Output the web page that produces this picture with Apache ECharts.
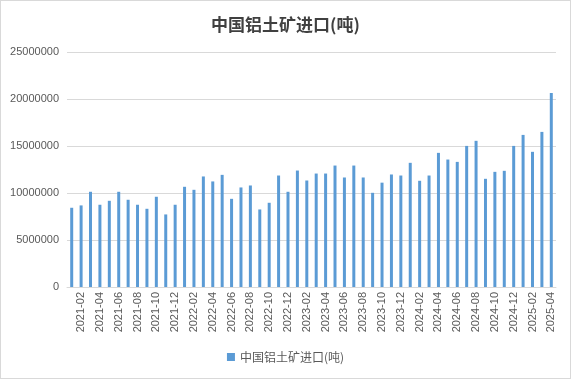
<!DOCTYPE html>
<html>
<head>
<meta charset="utf-8">
<script src="https://cdn.jsdelivr.net/npm/echarts@6/dist/echarts.min.js"></script>
<style>
html,body{margin:0;padding:0;background:#fff;}
#wrap{position:absolute;left:0;top:0;width:569px;height:377px;border:1px solid #d9d9d9;}
#c{width:569px;height:377px;}
</style>
</head>
<body>
<div id="wrap"><div id="c"></div></div>
<script>
const months = [
"2021-01","2021-02","2021-03","2021-04","2021-05","2021-06","2021-07","2021-08","2021-09","2021-10","2021-11","2021-12",
"2022-01","2022-02","2022-03","2022-04","2022-05","2022-06","2022-07","2022-08","2022-09","2022-10","2022-11","2022-12",
"2023-01","2023-02","2023-03","2023-04","2023-05","2023-06","2023-07","2023-08","2023-09","2023-10","2023-11","2023-12",
"2024-01","2024-02","2024-03","2024-04","2024-05","2024-06","2024-07","2024-08","2024-09","2024-10","2024-11","2024-12",
"2025-01","2025-02","2025-03","2025-04"];
const imports = [
8430000,8680000,10130000,8750000,9170000,10130000,9280000,8750000,8320000,9600000,7720000,8750000,
10660000,10340000,11760000,11230000,11930000,9380000,10590000,10800000,8250000,8960000,11860000,10130000,
12390000,11330000,12070000,12070000,12920000,11650000,12920000,11650000,10020000,11100000,11970000,11860000,
13210000,11300000,11860000,14270000,13560000,13310000,15010000,15550000,11510000,12250000,12360000,15010000,
16180000,14380000,16500000,20640000];
const seriesName = "中国铝土矿进口(吨)";
const titleText = "中国铝土矿进口(吨)";

const chart = echarts.init(document.getElementById('c'), null, {renderer:'canvas'});
chart.setOption({
  animation:false,
  backgroundColor:'#fff',
  title:{text:titleText,left:'center',top:10,
    textStyle:{fontFamily:'"Noto Sans CJK SC"',fontWeight:'bold',fontSize:17,color:'#404040'}},
  grid:{left:66,right:14,top:51,bottom:91,containLabel:false},
  legend:{bottom:10,left:'center',itemWidth:8,itemHeight:8,icon:'rect',
    textStyle:{fontFamily:'"Noto Sans CJK SC"',fontSize:12,color:'#595959'},
    data:[seriesName]},
  xAxis:{type:'category',data:months,
    axisLine:{lineStyle:{color:'#d9d9d9'}},
    axisTick:{show:false},
    axisLabel:{rotate:90,fontSize:11,color:'#595959',fontFamily:'Arial, "Liberation Sans"',
      interval:function(i){return i%2===1;},margin:5}},
  yAxis:{type:'value',min:0,max:25000000,interval:5000000,
    axisLine:{show:false},axisTick:{show:false},
    splitLine:{lineStyle:{color:'#d9d9d9'}},
    axisLabel:{fontSize:11,color:'#595959',fontFamily:'Arial, "Liberation Sans"',margin:8,
      formatter:function(v){return String(v);}}},
  series:[{name:seriesName,type:'bar',data:imports,barWidth:3,
    itemStyle:{color:'#5b9bd5'}}]
});
</script>
</body>
</html>
